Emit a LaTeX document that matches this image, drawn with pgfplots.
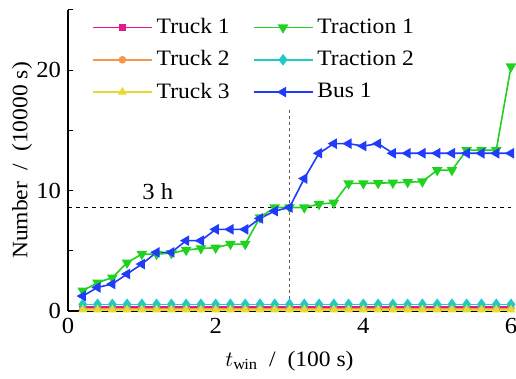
\documentclass[border=0pt]{standalone}
\usepackage{fontspec}
\setmainfont{Liberation Serif}[FakeStretch=1.07]
\usepackage{pgfplots}
\pgfplotsset{compat=1.18}

\definecolor{cTruckA}{HTML}{E6178A}
\definecolor{cTruckB}{HTML}{F5964A}
\definecolor{cTruckC}{HTML}{E6DC2E}
\definecolor{cTracA}{HTML}{1ED21E}
\definecolor{cTracB}{HTML}{22C8C8}
\definecolor{cBus}{HTML}{1E3CFA}

\begin{document}
\begin{tikzpicture}
\begin{axis}[
  scale only axis,
  width=221.5pt, height=150.5pt,
  xmin=0, xmax=6, ymin=0, ymax=25,
  axis x line*=bottom, axis y line*=left,
  axis line style={line width=0.6pt},
  xtick={0,2,4,6}, minor xtick={1,3,5},
  ytick={0,10,20}, minor ytick={5,15,25},
  tick align=inside,
  major tick length=2.5pt, minor tick length=2.5pt,
  tick style={black, line width=0.5pt},
  /pgf/number format/assume math mode=true,
  ticklabel style={font=\fontsize{11.5}{11.5}\selectfont},
  xlabel={$t_{\mathrm{win}}$\ \ /\ \ (100 s)},
  ylabel={Number\ \ /\ \ (10000 s)},
  label style={font=\fontsize{11}{11}\selectfont},
  xlabel style={at={([yshift=-25pt]axis description cs:0.5,0)}, anchor=center},
  ylabel style={at={([xshift=-23pt]axis description cs:0,0.5)}, anchor=center},
  legend columns=2,
  legend style={draw=none, fill=none, at={(0.04,1.0)}, anchor=north west,
    font=\fontsize{11}{11}\selectfont, row sep=3pt,
    /tikz/every even column/.append style={column sep=9.5pt}},
  legend cell align=left,
  legend image code/.code={%
    \draw[mark repeat=2, mark phase=2] plot coordinates {(0pt,0pt) (14.75pt,0pt) (29.5pt,0pt)};},
  every axis plot/.append style={line width=0.8pt, mark size=2.3pt},
]
% Reference lines at 8.6 and t = 3
\addplot[black, line width=0.5pt, dash pattern=on 2pt off 2pt, forget plot] coordinates {(0,8.6) (6,8.6)};
\addplot[gray!70!black, line width=0.7pt, dash pattern=on 1.5pt off 1.5pt, forget plot] coordinates {(3,0) (3,16.9)};
\node[font=\fontsize{11.5}{11.5}\selectfont] at (axis cs:1.215,9.9) {3 h};

% Truck 1
\addplot[cTruckA, mark=square*, mark size=1.3pt] coordinates {
(0.2,0.33)(0.4,0.33)(0.6,0.33)(0.8,0.33)(1.0,0.33)(1.2,0.33)(1.4,0.33)(1.6,0.33)(1.8,0.33)(2.0,0.33)
(2.2,0.33)(2.4,0.33)(2.6,0.33)(2.8,0.33)(3.0,0.33)(3.2,0.33)(3.4,0.33)(3.6,0.33)(3.8,0.33)(4.0,0.33)
(4.2,0.33)(4.4,0.33)(4.6,0.33)(4.8,0.33)(5.0,0.33)(5.2,0.33)(5.4,0.33)(5.6,0.33)(5.8,0.33)(6.0,0.33)};
\addlegendentry{Truck 1}
% Traction 1
\addplot[cTracA, mark=triangle*, mark options={rotate=180}] coordinates {
(0.2,1.69)(0.4,2.35)(0.6,2.77)(0.8,4.01)(1.0,4.73)(1.2,4.73)(1.4,4.80)(1.6,5.06)(1.8,5.20)(2.0,5.25)
(2.2,5.56)(2.4,5.56)(2.6,7.77)(2.8,8.60)(3.0,8.60)(3.2,8.60)(3.4,8.88)(3.6,8.99)(3.8,10.60)(4.0,10.60)
(4.2,10.62)(4.4,10.65)(4.6,10.70)(4.8,10.75)(5.0,11.70)(5.2,11.70)(5.4,13.36)(5.6,13.36)(5.8,13.36)(6.0,20.30)};
\addlegendentry{Traction 1}
% Truck 2
\addplot[cTruckB, mark=*, mark size=1.5pt] coordinates {
(0.2,0.22)(0.4,0.22)(0.6,0.22)(0.8,0.22)(1.0,0.22)(1.2,0.22)(1.4,0.22)(1.6,0.22)(1.8,0.22)(2.0,0.22)
(2.2,0.22)(2.4,0.22)(2.6,0.22)(2.8,0.22)(3.0,0.22)(3.2,0.22)(3.4,0.22)(3.6,0.22)(3.8,0.22)(4.0,0.22)
(4.2,0.22)(4.4,0.22)(4.6,0.22)(4.8,0.22)(5.0,0.22)(5.2,0.22)(5.4,0.22)(5.6,0.22)(5.8,0.22)(6.0,0.22)};
\addlegendentry{Truck 2}
% Traction 2
\addplot[cTracB, mark=diamond*, mark size=2.3pt] coordinates {
(0.2,0.55)(0.4,0.55)(0.6,0.55)(0.8,0.55)(1.0,0.55)(1.2,0.55)(1.4,0.55)(1.6,0.55)(1.8,0.55)(2.0,0.55)
(2.2,0.55)(2.4,0.55)(2.6,0.55)(2.8,0.55)(3.0,0.55)(3.2,0.55)(3.4,0.55)(3.6,0.55)(3.8,0.55)(4.0,0.55)
(4.2,0.55)(4.4,0.55)(4.6,0.55)(4.8,0.55)(5.0,0.55)(5.2,0.55)(5.4,0.55)(5.6,0.55)(5.8,0.55)(6.0,0.55)};
\addlegendentry{Traction 2}
% Truck 3
\addplot[cTruckC, mark=triangle*, mark size=1.8pt] coordinates {
(0.2,0.10)(0.4,0.10)(0.6,0.10)(0.8,0.10)(1.0,0.10)(1.2,0.10)(1.4,0.10)(1.6,0.10)(1.8,0.10)(2.0,0.10)
(2.2,0.10)(2.4,0.10)(2.6,0.10)(2.8,0.10)(3.0,0.10)(3.2,0.10)(3.4,0.10)(3.6,0.10)(3.8,0.10)(4.0,0.10)
(4.2,0.10)(4.4,0.10)(4.6,0.10)(4.8,0.10)(5.0,0.10)(5.2,0.10)(5.4,0.10)(5.6,0.10)(5.8,0.10)(6.0,0.10)};
\addlegendentry{Truck 3}
% Bus 1
\addplot[cBus, mark=triangle*, mark options={rotate=90}] coordinates {
(0.2,1.24)(0.4,1.96)(0.6,2.24)(0.8,3.07)(1.0,3.90)(1.2,4.87)(1.4,4.87)(1.6,5.84)(1.8,5.84)(2.0,6.78)
(2.2,6.78)(2.4,6.78)(2.6,7.69)(2.8,8.30)(3.0,8.60)(3.2,11.00)(3.4,13.10)(3.6,13.90)(3.8,13.90)(4.0,13.70)
(4.2,13.90)(4.4,13.10)(4.6,13.10)(4.8,13.10)(5.0,13.10)(5.2,13.10)(5.4,13.10)(5.6,13.10)(5.8,13.10)(6.0,13.10)};
\addlegendentry{Bus 1}
\end{axis}
% Fix the page margins around the axis box
\pgfresetboundingbox
\path ([shift={(-34pt,-33.5pt)}]current axis.south west) rectangle ([shift={(2.5pt,5pt)}]current axis.north east);
\end{tikzpicture}
\end{document}
